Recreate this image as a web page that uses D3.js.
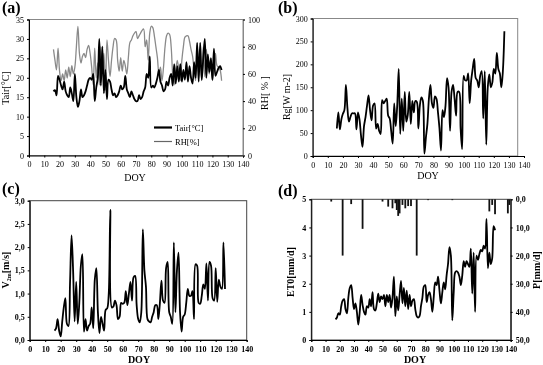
<!DOCTYPE html>
<html>
<head>
<meta charset="utf-8">
<script src="https://cdn.jsdelivr.net/npm/d3@7"></script>
<style>
  body { margin: 0; background: #fff; }
  svg { filter: grayscale(100%); }
  text { font-family: "Liberation Serif", "DejaVu Serif", serif; fill: #000; }
</style>
</head>
<body>
<div id="chart"></div>
<script>
// day-of-year categories and series values
var doyA = d3.range(16, 127);
var tair = [16.5,16.8,15.5,20.5,19.5,18,17,19,16.5,15.5,15,17.5,16,14,21,15,12.5,14,17,15,15.5,16.5,18,19.5,20,19.5,21,14,17.5,20,
  30,18,28,16,22,14.5,19.5,19,17,15.5,16,15,15.5,16.5,18,17,17.5,20.5,17,16,15,16.5,15.5,14.5,14,14,15.5,14.5,15,16.5,
  17.5,21,20,25.5,17.5,18,17.5,18.5,20,22,19,18,16.5,17,19,18,20,21,18,23.5,18.5,23,19,23.5,19,22,19.5,24,19,23,
  20,18.5,24,20,29,19,29,19.5,25,30,20,26,21.5,25,19.5,27.5,20.5,21.5,22.5,23,22];
var rh = [78,70,63,79,62,55,60,55,63,57,65,58,66,60,65,80,95,75,68,73,75,72,78,81,75,65,52,79,57,68,
  52,80,62,75,48,85,70,58,70,80,86,85,70,62,72,62,70,66,60,72,83,85,88,90,91,86,88,90,92,93,
  80,85,70,90,95,94,88,80,72,60,65,55,65,80,88,90,89,80,60,52,62,70,63,55,70,80,87,88,88,84,
  78,73,63,55,82,60,70,55,80,58,78,65,60,72,55,62,75,66,65,63,55];

var doyB = d3.range(16, 128);
var rg = [60,95,58,80,92,100,155,105,75,85,93,93,93,58,95,80,45,20,65,85,110,132,100,78,110,115,60,70,55,48,
  122,115,120,125,88,82,55,27,115,65,110,190,48,125,55,140,75,90,140,70,120,95,120,118,60,110,128,120,5,40,
  70,125,155,115,105,130,125,95,60,12,100,85,110,170,150,55,140,155,125,88,140,140,60,15,175,165,165,180,115,165,
  190,212,170,165,150,175,185,82,185,25,150,178,150,160,190,180,225,190,180,150,185,272];

var doyC = d3.range(16, 127);
var v2m = [0.2,0.25,0.45,0.2,0.08,0.4,0.7,0.9,0.35,0.3,1.2,2.25,1.5,0.4,1.25,0.35,0.8,1.6,1.85,0.18,0.45,0.2,0.3,0.35,0.7,0.25,1.3,1.55,0.6,0.15,
  0.5,0.35,0.2,0.65,0.68,1.0,2.8,0.7,0.72,0.85,0.75,0.45,0.5,0.8,0.78,0.8,1.05,0.75,1.0,1.25,0.85,1.35,1.38,0.75,0.45,0.38,0.6,2.38,1.5,1.15,
  0.45,0.4,0.38,0.5,0.6,0.75,0.75,0.45,0.8,1.28,0.85,0.8,1.55,1.68,0.6,0.5,0.35,2.1,0.6,1.5,1.88,0.6,0.18,0.5,0.55,0.8,1.1,0.95,0.95,1.05,
  0.45,1.63,1.6,0.8,0.78,0.95,1.2,1.1,1.65,0.85,1.68,1.6,0.9,0.85,1.55,0.82,1.3,1.15,1.1,2.1,1.1];

var doyD = d3.range(17, 130);
var et0 = [0.73,0.8,0.95,0.9,1.2,1.4,1.45,1.1,0.95,1.5,1.85,1.95,1.5,1.1,1.3,1.0,0.55,1.0,1.6,1.25,1.0,0.9,1.2,1.15,1.45,1.2,1.7,1.1,1.05,1.3,
  1.65,1.35,1.55,1.45,1.6,1.2,1.6,1.35,1.6,1.15,1.5,2.25,0.85,1.55,1.05,1.6,2.1,1.3,1.85,1.2,1.75,1.1,1.6,1.2,1.4,1.45,1.1,0.85,0.8,0.85,
  1.2,1.5,1.9,1.95,1.35,1.6,1.7,1.45,1.0,1.55,2.05,1.95,2.25,1.75,1.3,1.7,2.05,1.8,2.3,2.7,3.3,3.0,0.7,1.7,2.4,2.45,2.4,2.25,1.95,2.3,
  2.8,2.6,2.8,2.7,2.6,3.25,1.65,3.1,1.0,3.0,2.85,3.05,3.2,3.15,3.35,3.25,4.3,2.55,3.1,2.7,2.9,4.05,3.9];

var rainDoy = [14,22,28,36,50,54,57,59,60,61,62,64,66,68,70,74,82,99,125,127,129,138,139];
var rain = [0.8,20,1.7,10.5,0.8,2.6,3.2,1.4,3.8,5.9,5,2,3.2,2.4,2.4,20,0.3,0.3,4.3,2,5.3,5,2];

var xTicks = d3.range(0, 141, 10);

var svg = d3.select("#chart").append("svg")
  .attr("width", 543).attr("height", 365);
svg.append("rect").attr("width", 543).attr("height", 365).attr("fill", "#fff");

var comma1 = function(d) { return d3.format(".1f")(d).replace(".", ","); };

// draws frame, axes and returns scales
function frame(p) {
  var x = d3.scaleLinear().domain([0, 140]).range([p.left, p.xEnd || p.right]);
  var y = d3.scaleLinear().domain(p.yDomain).range([p.bottom, p.top]);
  var g = svg.append("g").style("font-weight", p.bold ? "bold" : "normal");

  g.append("rect")
    .attr("x", p.left).attr("y", p.top)
    .attr("width", p.right - p.left).attr("height", p.bottom - p.top)
    .attr("fill", "none").attr("stroke", p.boxColor).attr("stroke-width", 1);

  var xa = g.append("g")
    .attr("transform", "translate(0," + p.bottom + ")")
    .call(d3.axisBottom(x).tickValues(xTicks).tickSize(2).tickPadding(4).tickFormat(d3.format("d")));
  var ya = g.append("g")
    .attr("transform", "translate(" + p.left + ",0)")
    .call(d3.axisLeft(y).tickValues(p.yTicks).tickSize(2).tickPadding(3).tickFormat(p.yFormat));
  [xa, ya].forEach(function(a) {
    a.select(".domain").attr("stroke", "#000");
    a.selectAll("text").style("font-size", "8px").style("font-family", "Liberation Serif").style("fill", "#000");
  });

  g.append("text").attr("x", p.titleX).attr("y", p.titleY)
    .style("font-size", "16px").style("font-weight", "bold").text(p.title);
  g.append("text").attr("x", p.doyX).attr("y", p.doyY)
    .attr("text-anchor", "middle").style("font-size", "10px").text("DOY");
  return { x: x, y: y, g: g };
}

var smooth = d3.curveCatmullRom.alpha(0.5);

// (a) air temperature and relative humidity
var a = frame({ left: 29, right: 243, top: 19.5, bottom: 155.5, yDomain: [0, 35], yTicks: d3.range(0, 36, 5),
  yFormat: d3.format("d"), boxColor: "#888", title: "(a)", titleX: 2, titleY: 13, doyX: 135, doyY: 181 });
var yRh = d3.scaleLinear().domain([0, 100]).range([155.5, 19.5]);
var ra = a.g.append("g").attr("transform", "translate(243,0)")
  .call(d3.axisRight(yRh).tickValues(d3.range(0, 101, 20)).tickSize(2).tickPadding(3));
ra.select(".domain").attr("stroke", "#888");
ra.selectAll("text").style("font-size", "8px").style("fill", "#000");
a.g.append("path").datum(rh)
  .attr("d", d3.line().x(function(d, i) { return a.x(doyA[i]); }).y(function(d) { return yRh(d); }).curve(smooth))
  .attr("fill", "none").attr("stroke", "#8a8a8a").attr("stroke-width", 1.3);
a.g.append("path").datum(tair)
  .attr("d", d3.line().x(function(d, i) { return a.x(doyA[i]); }).y(function(d) { return a.y(d); }).curve(smooth))
  .attr("fill", "none").attr("stroke", "#000").attr("stroke-width", 1.8);
a.g.append("text").attr("transform", "translate(9,88) rotate(-90)").attr("text-anchor", "middle")
  .style("font-size", "10px").text("Tair[°C]");
a.g.append("text").attr("transform", "translate(268,93) rotate(-90)").attr("text-anchor", "middle")
  .style("font-size", "10px").text("RH[ % ]");
a.g.append("line").attr("x1", 154).attr("x2", 172).attr("y1", 127.5).attr("y2", 127.5)
  .attr("stroke", "#000").attr("stroke-width", 2.2);
a.g.append("text").attr("x", 175).attr("y", 130.5).style("font-size", "8.5px").text("Tair[°C]");
a.g.append("line").attr("x1", 154).attr("x2", 172).attr("y1", 141.5).attr("y2", 141.5)
  .attr("stroke", "#666").attr("stroke-width", 1.2);
a.g.append("text").attr("x", 175).attr("y", 144.5).style("font-size", "8.5px").text("RH[%]");

// (b) global radiation
var b = frame({ left: 312.7, right: 517.7, xEnd: 524, top: 18.5, bottom: 156, yDomain: [0, 300], yTicks: d3.range(0, 301, 50),
  yFormat: d3.format("d"), boxColor: "#888", title: "(b)", titleX: 278, titleY: 13, doyX: 428, doyY: 179 });
b.g.append("path").datum(rg)
  .attr("d", d3.line().x(function(d, i) { return b.x(doyB[i]); }).y(function(d) { return b.y(d); }).curve(smooth))
  .attr("fill", "none").attr("stroke", "#000").attr("stroke-width", 1.8);
b.g.append("text").attr("transform", "translate(290,97) rotate(-90)").attr("text-anchor", "middle")
  .style("font-size", "10px").text("Rg[W m-2]");

// (c) wind speed
var c = frame({ left: 29.7, right: 246.7, top: 200.7, bottom: 340, yDomain: [0, 3], yTicks: d3.range(0, 3.01, 0.5),
  yFormat: comma1, boxColor: "#444", bold: true, title: "(c)", titleX: 2, titleY: 194, doyX: 139, doyY: 363 });
c.g.append("path").datum(v2m)
  .attr("d", d3.line().x(function(d, i) { return c.x(doyC[i]); }).y(function(d) { return c.y(d); }).curve(smooth))
  .attr("fill", "none").attr("stroke", "#000").attr("stroke-width", 1.8);
var vl = c.g.append("text").attr("transform", "translate(9,270) rotate(-90)").attr("text-anchor", "middle")
  .style("font-size", "10px");
vl.append("tspan").text("V");
vl.append("tspan").attr("dy", 2).style("font-size", "6px").text("2m");
vl.append("tspan").attr("dy", -2).text("[m/s]");

// (d) reference evapotranspiration and precipitation
var d = frame({ left: 311.3, right: 510.7, top: 199.3, bottom: 340, yDomain: [0, 5], yTicks: d3.range(0, 6, 1),
  yFormat: d3.format("d"), boxColor: "#444", bold: true, title: "(d)", titleX: 278, titleY: 196, doyX: 415, doyY: 363 });
var yP = d3.scaleLinear().domain([0, 50]).range([199.3, 340]);
var rd = d.g.append("g").attr("transform", "translate(510.7,0)")
  .call(d3.axisRight(yP).tickValues(d3.range(0, 51, 10)).tickSize(2).tickPadding(3).tickFormat(comma1));
rd.selectAll("text").style("font-size", "8px").style("fill", "#000");
d.g.selectAll(".pbar").data(rain).enter().append("rect")
  .attr("class", "pbar")
  .attr("x", function(v, i) { return d.x(rainDoy[i]) - 0.9; })
  .attr("y", yP(0))
  .attr("width", 1.8)
  .attr("height", function(v) { return yP(v) - yP(0); })
  .attr("fill", "#111");
d.g.append("path").datum(et0)
  .attr("d", d3.line().x(function(v, i) { return d.x(doyD[i]); }).y(function(v) { return d.y(v); }).curve(smooth))
  .attr("fill", "none").attr("stroke", "#000").attr("stroke-width", 1.8);
d.g.append("text").attr("transform", "translate(294,272) rotate(-90)").attr("text-anchor", "middle")
  .style("font-size", "10px").text("ET0[mm/d]");
d.g.append("text").attr("transform", "translate(540,270) rotate(-90)").attr("text-anchor", "middle")
  .style("font-size", "10px").text("P[mm/d]");
</script>
</body>
</html>
